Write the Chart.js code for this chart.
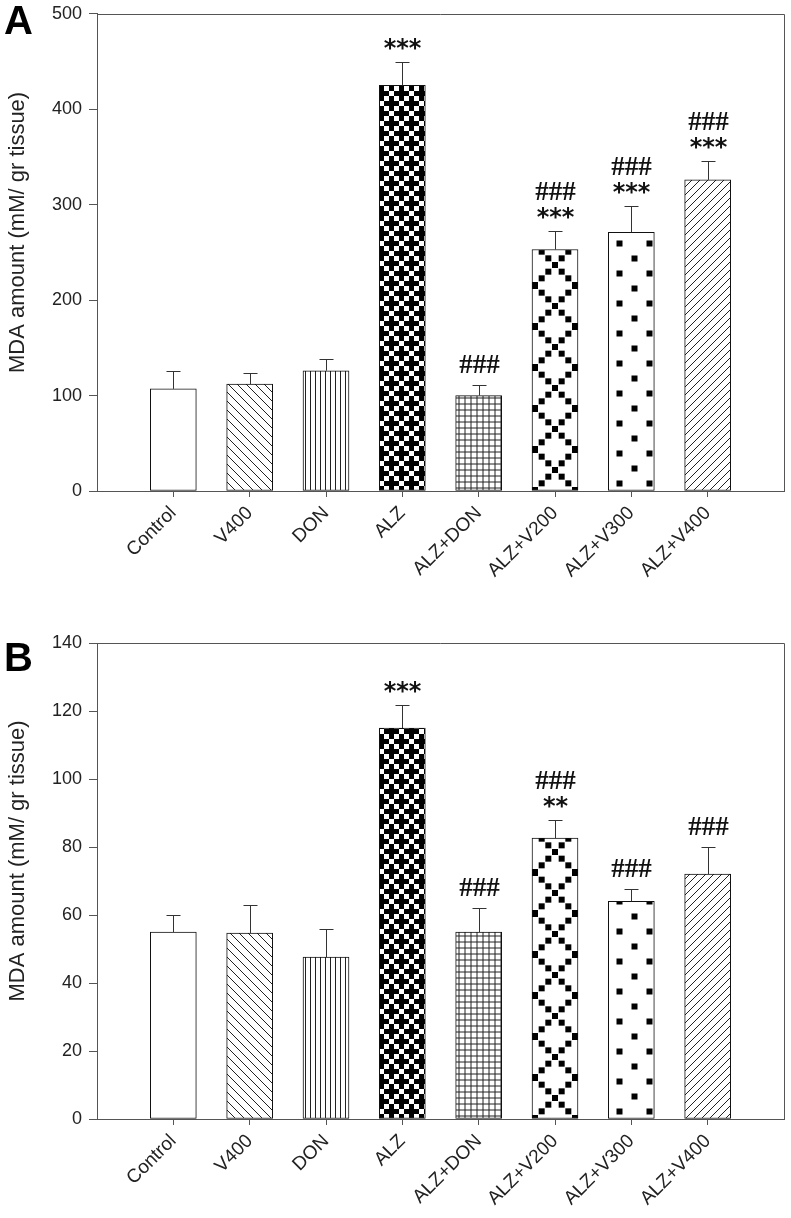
<!DOCTYPE html>
<html>
<head>
<meta charset="utf-8">
<script src="https://cdn.jsdelivr.net/npm/chart.js@4"></script>
<style>
  body { margin: 0; background: #fff; }
  .panel { position: absolute; left: 0; }
  .letter { position: absolute; font: bold 40px "Liberation Sans", Arial, sans-serif; line-height: 40px; color: #000; }
</style>
</head>
<body>
<div class="panel" style="top:-4px"><canvas id="chartA" width="791" height="604"></canvas></div>
<div class="panel" style="top:600px"><canvas id="chartB" width="791" height="618"></canvas></div>
<div class="letter" style="left:4px;top:0px">A</div>
<div class="letter" style="left:4px;top:637px">B</div>
<script>
const categories = ['Control', 'V400', 'DON', 'ALZ', 'ALZ+DON', 'ALZ+V200', 'ALZ+V300', 'ALZ+V400'];

// panel A
const mdaA = [107, 112, 126, 425, 100, 253, 271, 326];
const errA = [19, 12, 12, 25, 11, 19, 28, 20];
const starsA = ['', '', '', '***', '', '***', '***', '***'];
const hashA = ['', '', '', '', '###', '###', '###', '###'];
const ticksA = [0, 100, 200, 300, 400, 500];

// panel B
const mdaB = [55, 54.7, 47.6, 115, 55, 82.6, 64, 72];
const errB = [5, 8.3, 8.4, 6.8, 7, 5.4, 3.6, 8];
const starsB = ['', '', '', '***', '', '**', '', ''];
const hashB = ['', '', '', '', '###', '###', '###', '###'];
const ticksB = [0, 20, 40, 60, 80, 100, 120, 140];

const yTitle = 'MDA amount (mM/ gr tissue)';
const INK = '#222';

function tile(w, h, draw) {
  const c = document.createElement('canvas');
  c.width = w; c.height = h;
  const g = c.getContext('2d');
  g.fillStyle = '#fff';
  g.fillRect(0, 0, w, h);
  g.strokeStyle = INK;
  g.fillStyle = '#000';
  g.lineWidth = 1;
  draw(g, w, h);
  return g.createPattern(c, 'repeat');
}

function diag(g, s, back) {
  g.beginPath();
  const segs = back
    ? [[-1, -1, s + 1, s + 1], [-1, s - 1, 1, s + 1], [s - 1, -1, s + 1, 1]]
    : [[-1, s + 1, s + 1, -1], [-1, 1, 1, -1], [s - 1, s + 1, s + 1, s - 1]];
  segs.forEach(p => { g.moveTo(p[0], p[1]); g.lineTo(p[2], p[3]); });
  g.stroke();
}

function makePatterns() {
  return [
    '#fff',
    // V400: back slashes
    tile(9, 9, (g, s) => diag(g, s, true)),
    // DON: vertical lines
    tile(5, 5, g => { g.beginPath(); g.moveTo(2.5, 0); g.lineTo(2.5, 5); g.stroke(); }),
    // ALZ: black crosses with isolated white squares
    tile(20, 20, g => {
      const black = [[0, 0], [1, 0], [3, 0], [0, 1], [0, 3], [2, 2], [1, 2], [3, 2], [2, 1], [2, 3]];
      black.forEach(c => g.fillRect(c[0] * 5, c[1] * 5, 5, 5));
    }),
    // ALZ+DON: small grid
    tile(6, 6, g => {
      g.beginPath();
      g.moveTo(3, 0); g.lineTo(3, 6);
      g.moveTo(0, 3); g.lineTo(6, 3);
      g.stroke();
    }),
    // ALZ+V200: zigzag chains of squares
    tile(46, 82, g => {
      const st = 40 / 6;
      for (let k = 0; k <= 6; k++) {
        const x = k * st;
        const y1 = k * st, y2 = 41 + k * st;
        g.fillRect(x, y1 - 3, 6, 6);
        g.fillRect(40 - x, y1 - 3, 6, 6);
        g.fillRect(40 - x, y2 - 3, 6, 6);
        g.fillRect(x, y2 - 3, 6, 6);
      }
      g.fillRect(0, 79, 6, 6);
      g.fillRect(40, 79, 6, 6);
    }),
    // ALZ+V300: staggered squares
    tile(30, 30, g => {
      g.fillRect(23.5, 4.5, 6, 6);
      g.fillRect(8.5, 19.5, 6, 6);
    }),
    // ALZ+V400: forward slashes
    tile(8, 8, (g, s) => diag(g, s, false))
  ];
}

const alignPatterns = {
  id: 'alignPatterns',
  beforeDatasetsDraw(chart) {
    const pats = chart.data.datasets[0].backgroundColor;
    chart.getDatasetMeta(0).data.forEach((bar, i) => {
      const p = pats[i];
      if (p && p.setTransform) p.setTransform(new DOMMatrix([1, 0, 0, 1, Math.round(bar.x - bar.width / 2), Math.round(bar.base)]));
    });
  }
};

function centeredText(ctx, txt, x, yc, font) {
  ctx.font = font;
  const m = ctx.measureText(txt);
  const y = yc + (m.actualBoundingBoxAscent - m.actualBoundingBoxDescent) / 2;
  ctx.fillText(txt, x, y);
}

const extras = {
  id: 'extras',
  afterDatasetsDraw(chart, args, opts) {
    const ctx = chart.ctx;
    const ys = chart.scales.y;
    const vals = chart.data.datasets[0].data;
    ctx.save();
    ctx.strokeStyle = '#333';
    ctx.lineWidth = 1;
    ctx.fillStyle = '#111';
    ctx.textAlign = 'center';
    chart.getDatasetMeta(0).data.forEach((bar, i) => {
      const top = Math.round(ys.getPixelForValue(vals[i].y + opts.err[i])) + 0.5;
      const x = Math.round(bar.x) + 0.5;
      ctx.beginPath();
      ctx.moveTo(x, bar.y);
      ctx.lineTo(x, top);
      ctx.moveTo(x - 7, top);
      ctx.lineTo(x + 7, top);
      ctx.stroke();
      let yc = top;
      if (opts.stars[i]) {
        yc -= 19;
        centeredText(ctx, opts.stars[i], x, yc, 'bold 24px "DejaVu Sans"');
        if (opts.hash[i]) {
          yc -= 22;
          centeredText(ctx, opts.hash[i], x, yc, 'bold 27px "Liberation Serif"');
        }
      } else if (opts.hash[i]) {
        yc -= 22;
        centeredText(ctx, opts.hash[i], x, yc, 'bold 27px "Liberation Serif"');
      }
    });
    ctx.restore();
  },
  afterDraw(chart, args, opts) {
    const ctx = chart.ctx;
    const a = chart.chartArea;
    ctx.save();
    ctx.strokeStyle = '#555';
    ctx.lineWidth = 1;
    ctx.beginPath();
    ctx.moveTo(a.left, Math.round(a.top) + 0.5);
    ctx.lineTo(Math.round(a.right) + 0.5, Math.round(a.top) + 0.5);
    ctx.lineTo(Math.round(a.right) + 0.5, a.bottom);
    ctx.stroke();
    // y axis title, sitting a little above the middle of the axis
    ctx.translate(18, (a.top + a.bottom) / 2 - 20);
    ctx.rotate(-Math.PI / 2);
    ctx.fillStyle = INK;
    ctx.textAlign = 'center';
    ctx.textBaseline = 'middle';
    ctx.font = '22px "Liberation Sans"';
    ctx.fillText(yTitle, 0, 0);
    ctx.restore();
  }
};

function build(id, values, err, stars, hash, yTicks, padTop, xHeight) {
  const yMax = yTicks[yTicks.length - 1];
  return new Chart(document.getElementById(id), {
    type: 'bar',
    data: {
      datasets: [{
        data: values.map((v, i) => ({ x: i + 1, y: v })),
        backgroundColor: makePatterns(),
        borderColor: '#111',
        borderWidth: 1,
        borderSkipped: false,
        barThickness: 46
      }]
    },
    plugins: [alignPatterns, extras],
    options: {
      responsive: false,
      animation: false,
      devicePixelRatio: 1,
      layout: { padding: { left: 0, right: 7, top: padTop, bottom: 0 } },
      plugins: {
        legend: { display: false },
        tooltip: { enabled: false },
        extras: { err: err, stars: stars, hash: hash }
      },
      scales: {
        x: {
          type: 'linear',
          min: 0,
          max: 9,
          offset: false,
          afterBuildTicks: s => { s.ticks = categories.map((c, i) => ({ value: i + 1 })); },
          afterFit: s => { s.height = xHeight; },
          grid: { drawOnChartArea: false, offset: false, tickLength: 6, color: '#555' },
          border: { color: '#555' },
          ticks: {
            autoSkip: false,
            minRotation: 45,
            maxRotation: 45,
            padding: 5,
            color: INK,
            font: { family: 'Liberation Sans', size: 19 },
            callback: v => categories[v - 1]
          }
        },
        y: {
          min: 0,
          max: yMax,
          afterBuildTicks: s => { s.ticks = yTicks.map(v => ({ value: v })); },
          afterFit: s => { s.width = 97; },
          grid: { drawOnChartArea: false, tickLength: 8, color: '#555' },
          border: { color: '#555' },
          ticks: {
            padding: 7,
            color: INK,
            font: { family: 'Liberation Sans', size: 18 }
          }
        }
      }
    }
  });
}

build('chartA', mdaA, errA, starsA, hashA, ticksA, 10, 109);
build('chartB', mdaB, errB, starsB, hashB, ticksB, 43, 99);
</script>
</body>
</html>
